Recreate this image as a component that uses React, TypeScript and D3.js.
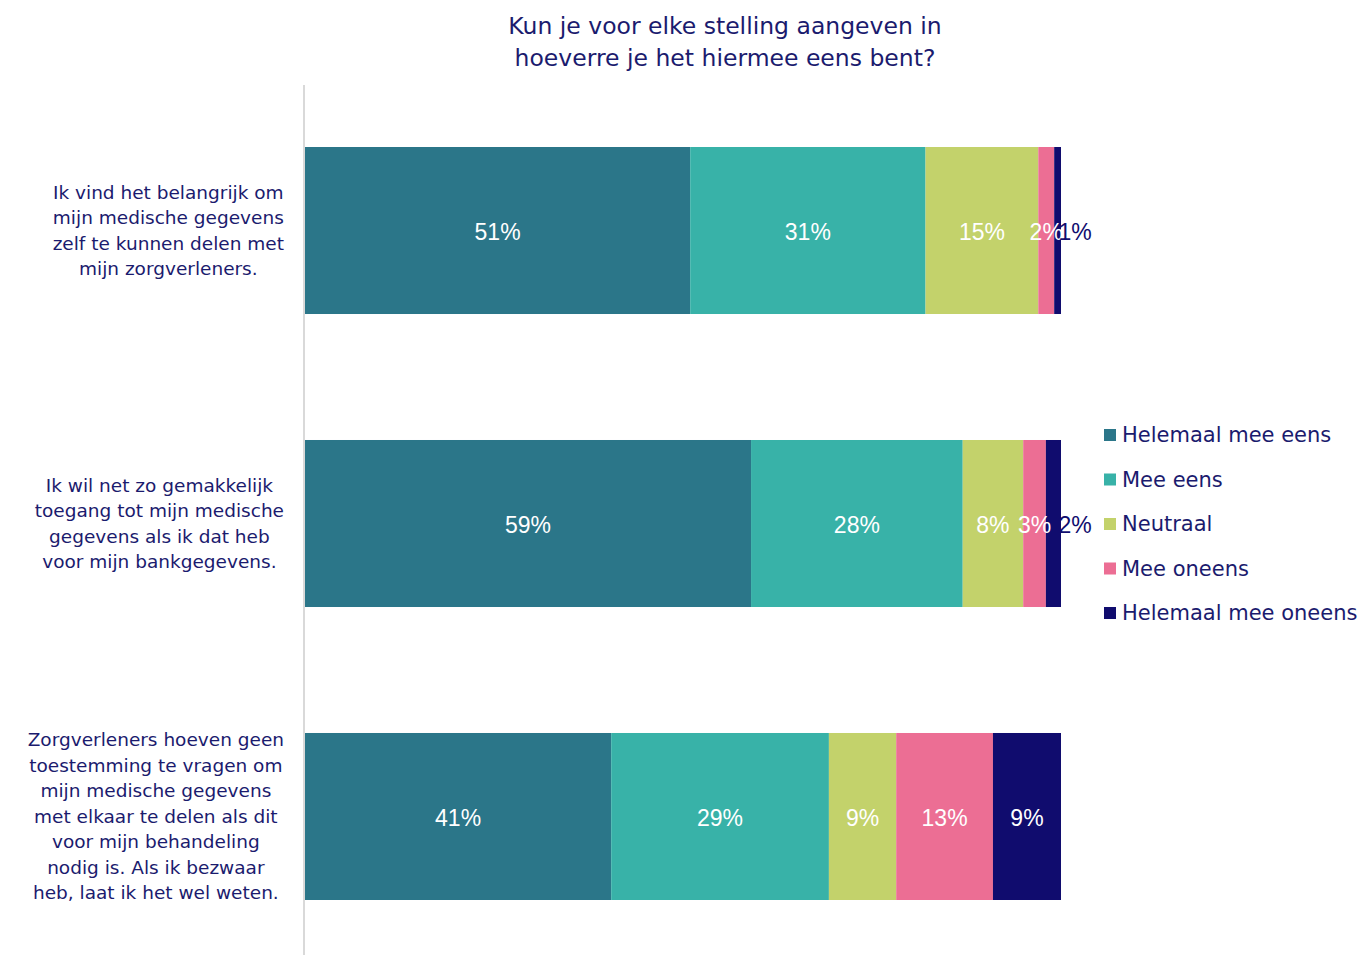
import React from "react";
import * as d3 from "d3";

const title = ["Kun je voor elke stelling aangeven in", "hoeverre je het hiermee eens bent?"];
const categories = [
  ["Ik vind het belangrijk om", "mijn medische gegevens", "zelf te kunnen delen met", "mijn zorgverleners."],
  ["Ik wil net zo gemakkelijk", "toegang tot mijn medische", "gegevens als ik dat heb", "voor mijn bankgegevens."],
  ["Zorgverleners hoeven geen", "toestemming te vragen om", "mijn medische gegevens", "met elkaar te delen als dit", "voor mijn behandeling", "nodig is. Als ik bezwaar", "heb, laat ik het wel weten."],
];
const seriesNames = ["Helemaal mee eens", "Mee eens", "Neutraal", "Mee oneens", "Helemaal mee oneens"];
const seriesColors = ["#2B7689", "#38B2A8", "#C3D26B", "#EC6E94", "#100C6E"];
// values per statement, in series order
const helemaalMeeEens = [50.9, 59.0, 40.5];
const meeEens = [31.1, 28.0, 28.8];
const neutraal = [14.9, 8.0, 8.9];
const meeOneens = [2.1, 3.0, 12.8];
const helemaalMeeOneens = [0.9, 2.0, 9.0];
const labels = [
  [51, 31, 15, 2, 1],
  [59, 28, 8, 3, 2],
  [41, 29, 9, 13, 9],
];

const W = 1358, H = 955;
const textColor = "#1B1B6E";
const font = "'DejaVu Sans', Verdana, sans-serif";
const labelFont = "'Liberation Sans', Arial, sans-serif";
const catFontSize = 18.5;

function measure(t: string, size: number, family: string): number {
  const c = document.createElement("canvas").getContext("2d");
  if (!c) return t.length * size * 0.55;
  c.font = `${size}px ${family}`;
  return c.measureText(t).width;
}

export default function App() {
  const series = [helemaalMeeEens, meeEens, neutraal, meeOneens, helemaalMeeOneens];
  const x = d3.scaleLinear().domain([0, 100]).range([305, 1061]);
  const y = d3.scaleBand().domain(["0", "1", "2"]).range([88.4, 958.6]).paddingInner(0.43).paddingOuter(0.2);
  const rows = categories.map((_, i) => {
    let acc = 0;
    const total = series.reduce((s, arr) => s + arr[i], 0);
    return series.map((arr, j) => {
      const v = (arr[i] / total) * 100;
      const seg = { x0: x(acc), x1: x(acc + v), j, label: labels[i][j] };
      acc += v;
      return seg;
    });
  });
  return (
    <svg width={W} height={H} style={{ position: "absolute", left: 0, top: 0, background: "#fff" }}>
      <g fill={textColor} fontFamily={font} fontSize={23.5} textAnchor="middle">
        {title.map((t, i) => (
          <text key={i} x={725} y={26 + i * 32} dy="0.35em">{t}</text>
        ))}
      </g>
      <line x1={304} x2={304} y1={85} y2={955} stroke="#D9D9D9" strokeWidth={2} />
      {rows.map((segs, i) => {
        const y0 = y(String(i))!;
        const bh = y.bandwidth();
        const cy = y0 + bh / 2 + 1;
        const lines = categories[i];
        const maxW = d3.max(lines, (t) => measure(t, catFontSize, font)) || 0;
        const cx = 284 - maxW / 2;
        return (
          <g key={i}>
            {segs.map((s) => (
              <rect key={s.j} x={s.x0} y={y0} width={s.x1 - s.x0} height={bh} fill={seriesColors[s.j]} />
            ))}
            {segs.map((s) => {
              const w = s.x1 - s.x0;
              const outside = s.j === segs.length - 1 && w < 20;
              const lx = outside ? s.x1 + 14 : (s.x0 + s.x1) / 2;
              return (
                <text key={"l" + s.j} x={lx} y={cy} dy="0.35em" textAnchor="middle" fontFamily={labelFont}
                  fontSize={23} fill={outside ? "#100C6E" : "#FFFFFF"}>
                  {s.label + "%"}
                </text>
              );
            })}
            <g fill={textColor} fontFamily={font} fontSize={catFontSize} textAnchor="middle">
              {lines.map((t, k) => (
                <text key={k} x={cx} y={cy - 1 + (k - (lines.length - 1) / 2) * 25.5} dy="0.35em">{t}</text>
              ))}
            </g>
          </g>
        );
      })}
      <g fontFamily={font} fontSize={21}>
        {seriesNames.map((n, j) => (
          <g key={j} transform={`translate(1104, ${435 + j * 44.5})`}>
            <rect x={0} y={-6} width={12} height={12} fill={seriesColors[j]} />
            <text x={18} y={0} dy="0.35em" fill={textColor}>{n}</text>
          </g>
        ))}
      </g>
    </svg>
  );
}
